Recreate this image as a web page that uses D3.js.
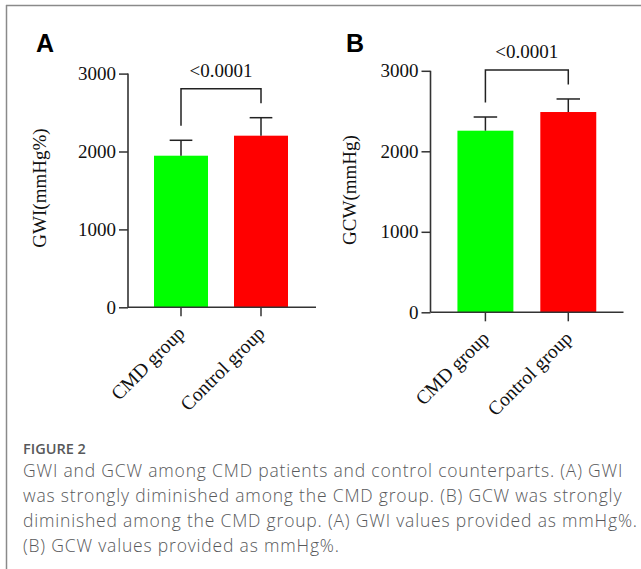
<!DOCTYPE html>
<html>
<head>
<meta charset="utf-8">
<script src="https://cdn.jsdelivr.net/npm/d3@7"></script>
<style>
  html, body { margin: 0; padding: 0; background: #fff; }
  svg { display: block; }
</style>
</head>
<body>
<svg id="fig" width="641" height="569"></svg>
<script>
// Group labels and bar colours
const groups = ["CMD group", "Control group"];
const barColors = ["#00ff00", "#ff0000"];

// Panel A: global work index (mean and SD)
const gwiMean = [1946, 2203];
const gwiSD = [198, 231];

// Panel B: global constructive work (mean and SD)
const gcwMean = [2256, 2488];
const gcwSD = [170, 162];

const yTicks = [0, 1000, 2000, 3000];
const pLabel = "<0.0001";

const captionTitle = "FIGURE 2";
const captionLines = [
  "GWI and GCW among CMD patients and control counterparts. (A) GWI",
  "was strongly diminished among the CMD group. (B) GCW was strongly",
  "diminished among the CMD group. (A) GWI values provided as mmHg%.",
  "(B) GCW values provided as mmHg%."
];

const svg = d3.select("#fig");
const serif = "'Liberation Serif', 'Times New Roman', serif";
const axisColor = "#333";

// outer frame (top and left rules)
svg.append("line").attr("x1", 6).attr("x2", 641).attr("y1", 5.5).attr("y2", 5.5)
  .attr("stroke", "#8a8a8a").attr("stroke-width", 1.5);
svg.append("line").attr("x1", 6.5).attr("x2", 6.5).attr("y1", 5).attr("y2", 569)
  .attr("stroke", "#8a8a8a").attr("stroke-width", 1.5);

function panel(opt) {
  const { letter, letterX, mean, sd, yTitle, titleX, titleY, xRange, axisEnd, yRange } = opt;
  const g = svg.append("g");

  const x = d3.scaleBand().domain(groups).range(xRange).paddingInner(0.325).paddingOuter(0.325);
  const y = d3.scaleLinear().domain([0, 3000]).range(yRange);

  // bars
  g.selectAll("rect.bar").data(groups).join("rect")
    .attr("class", "bar")
    .attr("x", d => x(d))
    .attr("width", x.bandwidth())
    .attr("y", (d, i) => y(mean[i]))
    .attr("height", (d, i) => y(0) - y(mean[i]))
    .attr("fill", (d, i) => barColors[i]);

  // upper error bars
  const cap = x.bandwidth() * 0.42;
  groups.forEach((d, i) => {
    const cx = x(d) + x.bandwidth() / 2;
    g.append("line").attr("x1", cx).attr("x2", cx)
      .attr("y1", y(mean[i])).attr("y2", y(mean[i] + sd[i]))
      .attr("stroke", "#222").attr("stroke-width", 1.5);
    g.append("line").attr("x1", cx - cap / 2).attr("x2", cx + cap / 2)
      .attr("y1", y(mean[i] + sd[i])).attr("y2", y(mean[i] + sd[i]))
      .attr("stroke", "#222").attr("stroke-width", 1.5);
  });

  // y axis
  const yAxis = g.append("g")
    .attr("transform", `translate(${xRange[0]},0)`)
    .call(d3.axisLeft(y).tickValues(yTicks).tickFormat(d3.format("d")).tickSize(9).tickPadding(3));
  yAxis.select(".domain").attr("stroke", axisColor).attr("stroke-width", 1.6)
    .attr("d", `M0,${yRange[1]}V${yRange[0]}`);
  yAxis.selectAll(".tick line").attr("stroke", axisColor).attr("stroke-width", 1.5);
  yAxis.selectAll(".tick text").attr("font-family", serif).attr("font-size", 19).attr("fill", "#111");

  // x baseline and ticks
  const xAxis = g.append("g").attr("transform", `translate(0,${y(0)})`)
    .call(d3.axisBottom(x).tickSize(9).tickFormat(""));
  xAxis.select(".domain").attr("stroke", axisColor).attr("stroke-width", 1.6)
    .attr("d", `M${xRange[0]},0H${axisEnd}`);
  xAxis.selectAll(".tick line").attr("stroke", axisColor).attr("stroke-width", 1.5);

  // rotated group labels
  groups.forEach(d => {
    const cx = x(d) + x.bandwidth() / 2;
    g.append("text")
      .attr("transform", `translate(${cx + 5},${y(0) + 27}) rotate(-45)`)
      .attr("text-anchor", "end")
      .attr("font-family", serif).attr("font-size", 19.5).attr("fill", "#111")
      .text(d);
  });

  // y axis title
  g.append("text")
    .attr("transform", `translate(${titleX},${titleY}) rotate(-90)`)
    .attr("text-anchor", "middle")
    .attr("font-family", serif).attr("font-size", 19).attr("fill", "#111")
    .text(yTitle);

  // significance bracket
  const legBottom = groups.map((d, i) => y(mean[i] + sd[i]) - 14.5);
  const top = Math.min(...legBottom) - 14.5;
  const c0 = x(groups[0]) + x.bandwidth() / 2;
  const c1 = x(groups[1]) + x.bandwidth() / 2;
  g.append("path")
    .attr("d", `M${c0},${legBottom[0]}V${top}H${c1}V${legBottom[1]}`)
    .attr("fill", "none").attr("stroke", "#222").attr("stroke-width", 1.5);
  g.append("text")
    .attr("x", (c0 + c1) / 2).attr("y", top - 12)
    .attr("text-anchor", "middle")
    .attr("font-family", serif).attr("font-size", 19).attr("fill", "#111")
    .text(pLabel);

  // panel letter
  svg.append("text")
    .attr("x", letterX).attr("y", 52)
    .attr("font-family", "'Liberation Sans', Arial, sans-serif")
    .attr("font-weight", "bold").attr("font-size", 25).attr("fill", "#000")
    .text(letter);
}

panel({
  letter: "A", letterX: 36, mean: gwiMean, sd: gwiSD, yTitle: "GWI(mmHg%)",
  titleX: 46, titleY: 188, xRange: [128, 314], axisEnd: 316, yRange: [307.3, 73.6]
});
panel({
  letter: "B", letterX: 346, mean: gcwMean, sd: gcwSD, yTitle: "GCW(mmHg)",
  titleX: 356, titleY: 190, xRange: [430.5, 623.2], axisEnd: 623.5, yRange: [312.3, 70.8]
});

// caption
svg.append("text")
  .attr("x", 23).attr("y", 453.5)
  .attr("font-family", "'Open Sans', sans-serif").attr("font-weight", 600)
  .attr("font-size", 14.5).attr("fill", "#58595b")
  .text(captionTitle);

const capText = svg.append("g").selectAll("text").data(captionLines).join("text")
  .attr("x", 23).attr("y", (d, i) => 477 + i * 25)
  .attr("font-family", "'Open Sans', sans-serif").attr("font-weight", 300)
  .attr("font-size", 17.5).attr("fill", "#58595b")
  .text(d => d);

// widen the caption tracking so the full lines fill the text column
const lineEnds = [632, 636, 637];
let spacing = Infinity;
capText.nodes().slice(0, 3).forEach((node, i) => {
  const w = node.getComputedTextLength();
  spacing = Math.min(spacing, (lineEnds[i] - 23 - w) / (captionLines[i].length - 1));
});
capText.attr("letter-spacing", Math.max(0, spacing));
</script>
</body>
</html>
